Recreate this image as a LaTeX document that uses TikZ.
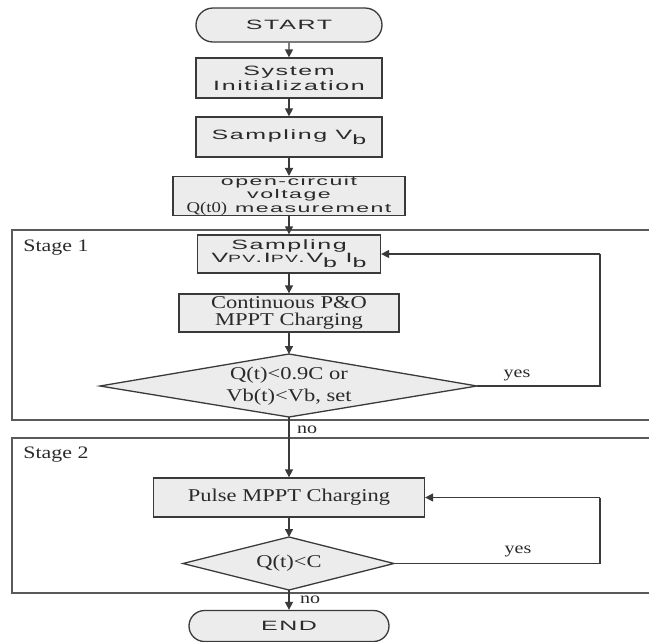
\documentclass[tikz,border=0pt]{standalone}
\usepackage{fontspec}
\setmainfont{Liberation Serif}
\newfontfamily\sfw[FakeStretch=1.85,LetterSpace=12]{Liberation Sans}
\newfontfamily\rmw[FakeStretch=1.25]{Liberation Serif}
\usetikzlibrary{shapes.geometric,shapes.misc,arrows.meta}
\definecolor{boxfill}{HTML}{ECECEC}
\definecolor{linec}{HTML}{3A3A3A}
\definecolor{framec}{HTML}{5A5A5A}
\definecolor{txt}{HTML}{2A2A2A}
\newcommand{\lowb}{\raisebox{-0.35em}{b}}
\begin{document}
\begin{tikzpicture}[x=1pt,y=-1pt,
  proc/.style={draw=linec, fill=boxfill, rectangle, inner sep=0pt, align=center, line width=1.3pt, text=txt},
  term/.style={draw=linec, fill=boxfill, rounded rectangle, inner sep=0pt, line width=1.3pt, text=txt},
  decshape/.style={draw=linec, fill=boxfill, line width=1.3pt, line join=miter},
  dectext/.style={inner sep=0pt, align=center, text=txt},
  stageframe/.style={draw=framec, line width=1.3pt},
  flow/.style={-{Triangle[length=8pt,width=8pt]}, draw=linec, line width=1.3pt},
  loopline/.style={draw=linec, line width=1.3pt},
  sfbig/.style={font=\sfw\fontsize{13.5}{15}\selectfont},
  sfsmall/.style={font=\sfw\fontsize{12.5}{12.5}\selectfont},
  rmbig/.style={font=\rmw\fontsize{18}{20}\selectfont},
  lbl/.style={font=\rmw\fontsize{16}{18}\selectfont, inner sep=0pt, text=txt}
]
\useasboundingbox (0,0) rectangle (649,641);
\fill[white] (0,0) rectangle (649,641);

% stage frames
\draw[stageframe] (660,230) -- (12,230) -- (12,420) -- (660,420);
\draw[stageframe] (660,438) -- (12,438) -- (12,593) -- (660,593);
\node[lbl, font=\rmw\fontsize{17.5}{20}\selectfont] (s1) at (56,248) {Stage 1};
\node[lbl, font=\rmw\fontsize{17.5}{20}\selectfont] (s2) at (56,455) {Stage 2};

% nodes
\node[term, sfbig, minimum width=186pt, minimum height=34pt] (start) at (289,25) {START};
\node[proc, sfbig, minimum width=186pt, minimum height=40pt] (init) at (289,78) {System\\Initialization};
\node[proc, sfbig, minimum width=186pt, minimum height=40pt] (svb) at (289,137) {Sampling V\lowb};
\node[proc, sfsmall, minimum width=232pt, minimum height=38pt] (ocv) at (289,196) {open-circuit\\voltage\\{\rmw\fontsize{15}{12.5}\selectfont Q(t0)} measurement};
\node[proc, minimum width=183pt, minimum height=38pt, font=\sfw\fontsize{13.5}{13}\selectfont] (sall) at (289,254) {Sampling\\V{\fontsize{10.5}{10}\selectfont PV}.I{\fontsize{10.5}{10}\selectfont PV}.V\lowb{} I\lowb};
\node[proc, minimum width=220pt, minimum height=38pt, font=\rmw\fontsize{18}{17.5}\selectfont] (cont) at (289,313) {Continuous P\&O\\MPPT Charging};

% decision 1
\coordinate (d1t) at (289,354);
\coordinate (d1r) at (477,386);
\coordinate (d1b) at (289,417);
\coordinate (d1l) at (100,386);
\draw[decshape] (d1t) -- (d1r) -- (d1b) -- (d1l) -- cycle;
\node[dectext, font=\rmw\fontsize{18}{22}\selectfont] (d1) at (289,386) {Q(t)<0.9C or\\Vb(t)<Vb, set};

\node[proc, rmbig, minimum width=271pt, minimum height=39pt] (pulse) at (289,497.5) {Pulse MPPT Charging};

% decision 2
\coordinate (d2t) at (289,537);
\coordinate (d2r) at (394,563.5);
\coordinate (d2b) at (289,590);
\coordinate (d2l) at (183,563.5);
\draw[decshape] (d2t) -- (d2r) -- (d2b) -- (d2l) -- cycle;
\node[dectext, rmbig] (d2) at (289,563.5) {Q(t)<C};

\node[term, sfbig, minimum width=200pt, minimum height=31pt] (end) at (289,626) {END};

% corner coordinates
\coordinate (c1) at (600,386);
\coordinate (c2) at (600,254);
\coordinate (c3) at (600,563.5);
\coordinate (c4) at (600,497.5);

% flows
\draw[flow] (start) -- (init);
\draw[flow] (init) -- (svb);
\draw[flow] (svb) -- (ocv);
\draw[flow] (ocv) -- (sall);
\draw[flow] (sall) -- (cont);
\draw[flow] (cont) -- (d1t);
\draw[flow] (d1b) -- (pulse);
\draw[flow] (d2t |- pulse.south) -- (d2t);
\draw[flow] (d2b) -- (end);
\draw[loopline] (d1r) -- (c1) -- (c2);
\draw[flow] (c2) -- (sall.east);
\draw[loopline] (d2r) -- (c3) -- (c4);
\draw[flow] (c4) -- (pulse.east);
\node[lbl] (no1) at (307,430) {no};
\node[lbl] (no2) at (310,600) {no};
\node[lbl] (yes1) at (517,375) {yes};
\node[lbl] (yes2) at (518,551) {yes};
\end{tikzpicture}
\end{document}
